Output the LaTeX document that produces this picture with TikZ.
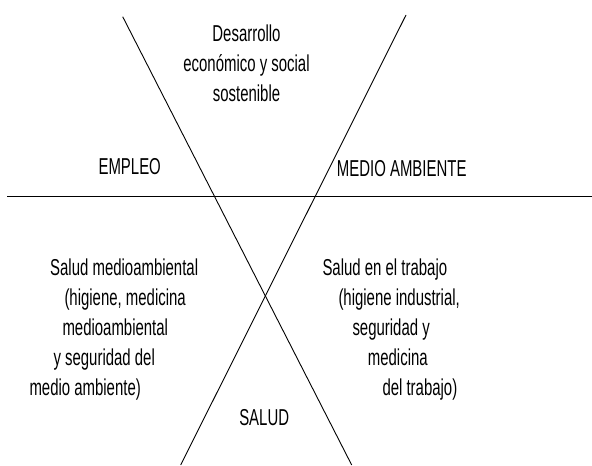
\documentclass[tikz,border=0pt]{standalone}
\usepackage{fontspec}
\setmainfont[FakeStretch=0.65]{Liberation Sans}
\usepackage{tikz}
\usetikzlibrary{positioning}
\tikzset{lbl/.style={font=\fontsize{23}{30}\selectfont, inner sep=0pt}}
\tikzset{eje/.style={line width=0.9pt}}

\begin{document}
\begin{tikzpicture}[x=1pt, y=-1pt]
    \useasboundingbox (0,0) rectangle (592,466);
    \coordinate (hL) at (7,196);
    \coordinate (hR) at (592,196);
    \coordinate (aT) at (122.7,16.7);
    \coordinate (aB) at (351.7,465);
    \coordinate (bT) at (406,15);
    \coordinate (bB) at (180.7,465);

    \node (des) [lbl, align=center, anchor=north] at (246.5,24.2) {Desarrollo\\económico y social\\sostenible};
    \node (emp) [lbl, anchor=base] at (129.7,174) {EMPLEO};
    \node (med) [lbl, anchor=base] at (401.7,176.7) {MEDIO AMBIENTE};
    \node (sma) [lbl, align=left, anchor=north west] at (29.3,258.7) {\hspace*{20.7pt}Salud medioambiental\\\hspace*{35pt}(higiene, medicina\\\hspace*{33pt}medioambiental\\\hspace*{24pt}y seguridad del\\medio ambiente)};
    \node (str) [lbl, align=left, anchor=north west] at (322.3,258.7) {Salud en el trabajo\\\hspace*{16pt}(higiene industrial,\\\hspace*{30pt}seguridad y\\\hspace*{45.4pt}medicina\\\hspace*{60pt}del trabajo)};
    \node (sal) [lbl, anchor=base] at (264.2,425) {SALUD};

    \path [draw, eje] (hL) -- (hR);
    \path [draw, eje] (aT) -- (aB);
    \path [draw, eje] (bT) -- (bB);
\end{tikzpicture}
\end{document}
